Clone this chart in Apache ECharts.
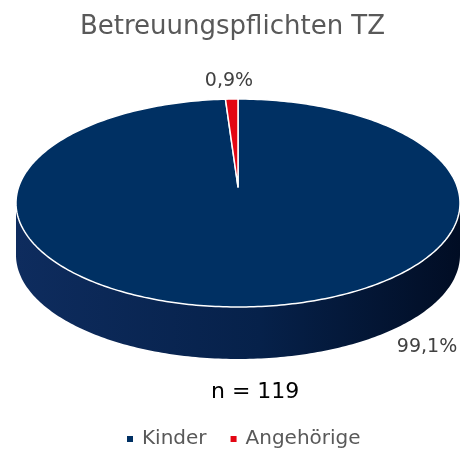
<!DOCTYPE html>
<html>
<head>
<meta charset="utf-8">
<script src="https://cdn.jsdelivr.net/npm/echarts@6/dist/echarts.min.js"></script>
<style>
  html, body { margin: 0; padding: 0; background: #fff; }
  #chart { width: 465px; height: 451px; }
</style>
</head>
<body>
<div id="chart"></div>
<script>
const categories = ['Kinder', 'Angehörige'];
const shares = [99.1, 0.9];
const labels = ['99,1%', '0,9%'];
const sampleSize = 119;

const colors = ['#003063', '#e30613'];
const sideColors = [['#0e2c5e', '#06214a', '#010d24'], ['#8a0410', '#6d030c', '#4a0208']];
const font = '"DejaVu Sans", "Open Sans", sans-serif';

// pie geometry (pixels)
const geo = { cx: 238, cy: 203, rx: 222, ry: 104, depth: 52, apexY: 187 };
// label anchors per slice
const labelPos = [{ x: 427, y: 347 }, { x: 229, y: 81 }];

const total = shares.reduce((a, b) => a + b, 0);
const startOf = (i) => shares.slice(0, i).reduce((a, b) => a + b, 0) / total * 360;

function ellipsePt(deg, dy) {
    const t = deg * Math.PI / 180;
    return [geo.cx + geo.rx * Math.sin(t), geo.cy - geo.ry * Math.cos(t) + (dy || 0)];
}

function arcPts(a1, a2, dy) {
    const pts = [];
    const n = Math.max(2, Math.ceil((a2 - a1) / 1));
    for (let k = 0; k <= n; k++) pts.push(ellipsePt(a1 + (a2 - a1) * k / n, dy));
    return pts;
}

function renderSlice(idx) {
    return function () {
        const a1 = startOf(idx);
        const a2 = a1 + shares[idx] / total * 360;
        const children = [];

        // front side wall: visible between 90deg and 270deg (clockwise from top)
        const s1 = Math.max(a1, 90), s2 = Math.min(a2, 270);
        if (s2 > s1) {
            const top = arcPts(s1, s2, 0);
            const bottom = arcPts(s1, s2, geo.depth).reverse();
            const sc = sideColors[idx];
            children.push({
                type: 'polygon',
                shape: { points: top.concat(bottom) },
                style: {
                    fill: new echarts.graphic.LinearGradient(0, 0, 1, 0, [
                        { offset: 0, color: sc[0] },
                        { offset: 0.55, color: sc[1] },
                        { offset: 1, color: sc[2] }
                    ]),
                    stroke: null
                },
                z2: 1
            });
        }

        // top face
        const apex = [geo.cx, geo.apexY];
        children.push({
            type: 'polygon',
            shape: { points: [apex].concat(arcPts(a1, a2, 0)) },
            style: { fill: colors[idx], stroke: '#ffffff', lineWidth: 1.5, lineJoin: 'round' },
            z2: 2
        });

        children.push({
            type: 'text',
            x: labelPos[idx].x,
            y: labelPos[idx].y,
            style: {
                text: labels[idx],
                fill: '#404040',
                font: '19px ' + font,
                align: 'center',
                verticalAlign: 'middle'
            },
            z2: 3
        });
        return { type: 'group', children };
    };
}

const chart = echarts.init(document.getElementById('chart'), null, { renderer: 'canvas' });
chart.setOption({
    animation: false,
    backgroundColor: '#ffffff',
    textStyle: { fontFamily: font },
    title: [
        {
            text: 'Betreuungspflichten TZ',
            left: 'center',
            top: 9,
            textStyle: { color: '#595959', fontSize: 26, fontWeight: 'normal', fontFamily: font }
        },
        {
            text: 'n = ' + sampleSize,
            left: 206,
            top: 376,
            textStyle: { color: '#000000', fontSize: 22, fontWeight: 'normal', fontFamily: font }
        }
    ],
    legend: {
        top: 424,
        left: 122,
        icon: 'rect',
        itemWidth: 6,
        itemHeight: 6,
        itemGap: 24,
        textStyle: { color: '#595959', fontSize: 20, fontFamily: font, padding: [0, 0, 0, 4] },
        data: categories
    },
    series: categories.map((name, i) => ({
        type: 'custom',
        name,
        coordinateSystem: 'none',
        itemStyle: { color: colors[i] },
        z: i === 0 ? 2 : 3,
        data: [[shares[i]]],
        renderItem: renderSlice(i)
    }))
});
</script>
</body>
</html>
